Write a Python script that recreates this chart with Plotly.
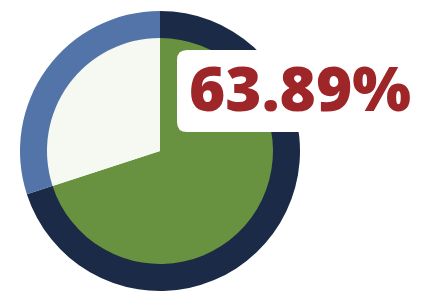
import plotly.graph_objects as go

# Data
outer_labels = ["Part A", "Part B"]
outer_values = [70, 30]
inner_labels = ["Part A", "Part B"]
inner_values = [70, 30]
label_text = "63.89%"

outer_colors = ["#1b2a46", "#5274a8"]
inner_colors = ["#689240", "#f6f9f2"]

OFF = 8  # page body margin
W, H = 426 - OFF, 292 - OFF
# plot area in page px
PL, PT, S = 20, 11, 280
L, T = PL - OFF, PT - OFF

def px_x(x):
    return (x - PL) / S

def px_y(y):
    return 1 - (y - PT) / S

fig = go.Figure()
fig.add_trace(go.Pie(
    labels=outer_labels, values=outer_values, hole=0.8,
    sort=False, direction="clockwise", rotation=0,
    marker=dict(colors=outer_colors, line=dict(width=0)),
    textinfo="none", hoverinfo="skip", showlegend=False,
    domain=dict(x=[0, 1], y=[0, 1]),
))
r_in = 113 / S
fig.add_trace(go.Pie(
    labels=inner_labels, values=inner_values,
    sort=False, direction="clockwise", rotation=0,
    marker=dict(colors=inner_colors, line=dict(width=0)),
    textinfo="none", hoverinfo="skip", showlegend=False,
    domain=dict(x=[0.5 - r_in, 0.5 + r_in], y=[0.5 - r_in, 0.5 + r_in]),
))

# rounded label box
x0, x1 = px_x(177), px_x(440)
y0, y1 = px_y(132), px_y(50)
r = 10 / S
path = (f"M {x0+r},{y1} L {x1-r},{y1} Q {x1},{y1} {x1},{y1-r} "
        f"L {x1},{y0+r} Q {x1},{y0} {x1-r},{y0} L {x0+r},{y0} "
        f"Q {x0},{y0} {x0},{y0+r} L {x0},{y1-r} Q {x0},{y1} {x0+r},{y1} Z")
fig.add_shape(type="path", path=path, xref="paper", yref="paper",
              fillcolor="white", line=dict(width=0), layer="above")

fig.add_annotation(
    x=px_x(300), y=px_y(87), xref="paper", yref="paper",
    text=label_text, showarrow=False, xanchor="center", yanchor="middle",
    font=dict(family="Open Sans", size=62, color="#9e2628", weight=800),
)

fig.update_layout(
    width=W, height=H,
    margin=dict(l=L, r=W - L - S, t=T, b=H - T - S),
    paper_bgcolor="white", plot_bgcolor="white",
)
fig.write_html("out.html")
